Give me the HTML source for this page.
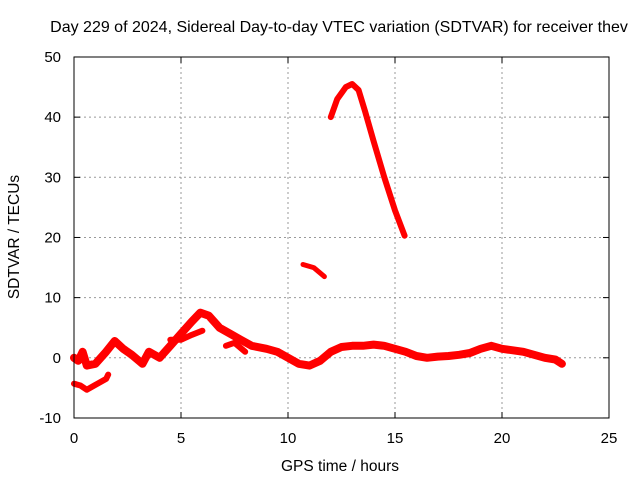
<!DOCTYPE html>
<html><head><meta charset="utf-8"><style>
body{margin:0;background:#fff}
svg{display:block;font-family:"Liberation Sans",sans-serif;font-size:14px}
</style></head><body>
<svg id="chart" width="640" height="480">
<text x="339" y="32" text-anchor="middle" font-size="16">Day 229 of 2024, Sidereal Day-to-day VTEC variation (SDTVAR) for receiver thev</text>
<text x="340" y="471" text-anchor="middle" font-size="15.5">GPS time / hours</text>
<text transform="translate(19,237) rotate(-90)" text-anchor="middle" font-size="15.5">SDTVAR / TECUs</text>
<g id="grid"></g><g id="series"></g>
<rect x="74" y="57" width="535" height="361" fill="none" stroke="#000"/>
</svg>
<script>
const xTicks=[0,5,10,15,20,25];
const yTicks=[-10,0,10,20,30,40,50];
const mainHours=[0,0.2,0.4,0.6,1.0,1.5,1.9,2.3,2.7,3.2,3.5,4.0,4.5,5.0,5.5,5.9,6.3,6.8,7.3,7.8,8.3,9.0,9.5,10.0,10.5,11.0,11.5,12.0,12.5,13.0,13.5,14.0,14.5,15.0,15.5,16.0,16.5,17.0,17.5,18.0,18.5,19.0,19.5,20.0,21.0,21.5,22.0,22.5,22.8];
const mainValues=[0,-0.5,1,-1.3,-1,1,2.8,1.5,0.5,-1,1,0,2,4,6,7.5,7,5,4,3,2,1.5,1,0,-1,-1.3,-0.5,1,1.8,2,2,2.2,2,1.5,1,0.3,0,0.2,0.3,0.5,0.8,1.5,2,1.5,1,0.5,0,-0.3,-1];
const branchAHours=[4.5,5.0,5.5,6.0];
const branchAValues=[3,3,3.8,4.5];
const branchBHours=[7.1,7.5,8.0];
const branchBValues=[2,2.5,1];
const lowHours=[0,0.3,0.6,1.0,1.5,1.6];
const lowValues=[-4.3,-4.6,-5.3,-4.5,-3.5,-2.8];
const midHours=[10.7,11.2,11.7];
const midValues=[15.5,15,13.5];
const peakHours=[12.0,12.3,12.7,13.0,13.3,13.6,14.0,14.5,15.0,15.45];
const peakValues=[40,43,45,45.5,44.5,41,36,30,24.5,20.3];
const X=h=>74+h*535/25, Y=v=>357.8-v*361/60;
const NS="http://www.w3.org/2000/svg";
const grid=document.getElementById('grid'), ser=document.getElementById('series');
function mk(tag,attrs,parent){const e=document.createElementNS(NS,tag);for(const k in attrs)e.setAttribute(k,attrs[k]);parent.appendChild(e);return e;}
xTicks.forEach(t=>{const x=X(t);
 if(t>0&&t<25){const l=mk('line',{x1:x,x2:x,y1:57,y2:418,stroke:'#999','stroke-dasharray':'2,3'},grid);
 
 }
 mk('line',{x1:x,x2:x,y1:418,y2:412,stroke:'#000'},grid);mk('line',{x1:x,x2:x,y1:57,y2:63,stroke:'#000'},grid);
 const tx=mk('text',{x:x,y:443,'text-anchor':'middle','font-size':15},grid);tx.textContent=t;
 
 });
yTicks.forEach(t=>{const y=Y(t);
 if(t>-10&&t<50){const l=mk('line',{x1:74,x2:609,y1:y,y2:y,stroke:'#999','stroke-dasharray':'2,3'},grid);
 
 }
 mk('line',{x1:74,x2:80,y1:y,y2:y,stroke:'#000'},grid);mk('line',{x1:609,x2:603,y1:y,y2:y,stroke:'#000'},grid);
 const tx=mk('text',{x:61,y:y+5,'text-anchor':'end','font-size':15},grid);tx.textContent=t;
 
 });
function draw(hs,vs,name,w){const d=hs.map((h,i)=>(i?'L':'M')+X(h).toFixed(1)+','+Y(vs[i]).toFixed(1)).join(' ');
 const p=mk('path',{d:d,fill:'none',stroke:'#f00','stroke-width':w,'stroke-linejoin':'round','stroke-linecap':'round'},ser);
 
 }
draw(mainHours,mainValues,'sdtvar-main-series',8);
draw(branchAHours,branchAValues,'sdtvar-branch-a',6);
draw(branchBHours,branchBValues,'sdtvar-branch-b',6);
draw(lowHours,lowValues,'sdtvar-low-segment',6);
draw(midHours,midValues,'sdtvar-mid-segment',5);
draw(peakHours,peakValues,'sdtvar-peak-segment',6);
</script>
</body></html>
